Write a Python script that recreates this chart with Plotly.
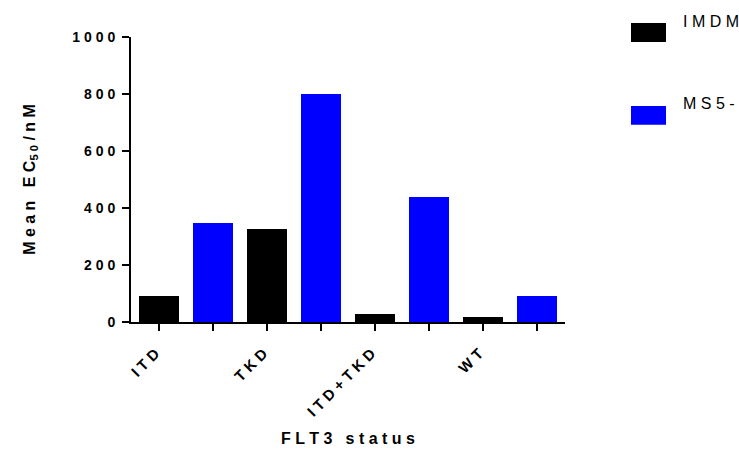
import plotly.graph_objects as go

# FLT3 mutation groups and mean EC50 (nM) per culture condition
categories = ["ITD", "TKD", "ITD+TKD", "WT"]
imdm_values = [90, 325, 27, 16]
ms5_values = [346, 800, 440, 91]
series_names = ["IMDM", "MS5-"]
series_colors = ["#000000", "#0000ff"]
y_ticks = [0, 200, 400, 600, 800, 1000]

FONT = "Liberation Sans, Arial, sans-serif"


def spaced(s):
    """Widen the tracking of a label by putting a space between characters."""
    return " ".join(s)


# each category occupies two slots: IMDM then MS5-
imdm_x = [2 * i for i in range(len(categories))]
ms5_x = [2 * i + 1 for i in range(len(categories))]

fig = go.Figure()
for name, xs, ys, color in [
    (series_names[0], imdm_x, imdm_values, series_colors[0]),
    (series_names[1], ms5_x, ms5_values, series_colors[1]),
]:
    fig.add_trace(go.Bar(
        x=xs, y=ys, name=name, width=0.74,
        marker=dict(color=color, line=dict(width=0)),
        showlegend=False,
    ))

fig.update_layout(
    width=739, height=450,
    margin=dict(l=131, r=174, t=37, b=128),
    plot_bgcolor="white", paper_bgcolor="white",
    font=dict(family=FONT, color="black"),
    bargap=0,
    xaxis=dict(
        range=[-0.52, 7.52], automargin=False,
        tickvals=imdm_x, ticktext=[spaced(c) for c in categories],
        tickangle=-45,
        tickfont=dict(size=15, weight="bold"),
        ticks="outside", ticklen=7, tickwidth=2, tickcolor="black",
        ticklabelstandoff=8, ticklabelshift=-4,
        minor=dict(tickvals=ms5_x, ticks="outside", ticklen=7,
                   tickwidth=2, tickcolor="black", showgrid=False),
        showline=True, linewidth=2, linecolor="black",
        showgrid=False, zeroline=False,
        title=dict(text=spaced("FLT3") + "   " + spaced("status"),
                   font=dict(size=16, weight="bold"), standoff=14),
    ),
    yaxis=dict(
        range=[0, 1000], automargin=False,
        tickvals=y_ticks, ticktext=[spaced(str(v)) for v in y_ticks],
        tickfont=dict(size=14, weight="bold"),
        ticks="outside", ticklen=7, tickwidth=2, tickcolor="black",
        ticklabelstandoff=4,
        showline=True, linewidth=2, linecolor="black",
        showgrid=False, zeroline=False,
        title=dict(text="M e a n   E C<sub>5 0</sub> / n M",
                   font=dict(size=16, weight="bold"), standoff=33),
    ),
)

# legend: colour swatch with label to its right
legend_y = [[23, 42], [106, 125]]
text_y = [21, 103.5]
for (y0, y1), ty, name, color in zip(legend_y, text_y, series_names, series_colors):
    fig.add_shape(type="rect", xref="paper", yref="paper",
                  x0=(631 - 131) / 434, x1=(666 - 131) / 434,
                  y0=(322.5 - y1) / 285.5, y1=(322.5 - y0) / 285.5,
                  fillcolor=color, line=dict(width=0))
    fig.add_annotation(xref="paper", yref="paper",
                       x=(681 - 131) / 434, y=(322.5 - ty) / 285.5,
                       xanchor="left", yanchor="middle", showarrow=False,
                       text=spaced(name), font=dict(size=16, color="black"))

fig.write_html("out.html")
